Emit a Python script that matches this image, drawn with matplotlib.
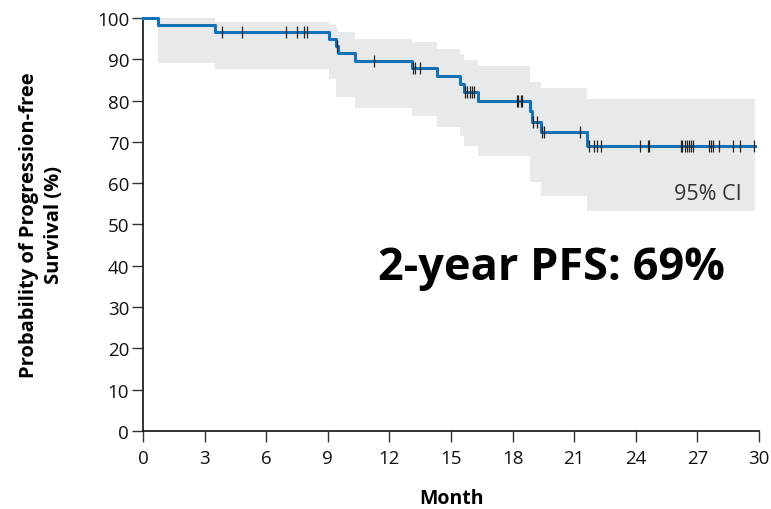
import numpy as np
import matplotlib.pyplot as plt

# Kaplan-Meier estimate: event times (months) and survival after each event (%)
event_months = [0.72, 3.5, 9.08, 9.42, 9.5, 10.33, 13.12, 14.3, 15.44, 15.64,
                16.33, 18.85, 18.95, 19.4, 21.6]
pfs = [98.3, 96.7, 95.0, 93.3, 91.6, 89.7, 87.8, 85.9, 84.0, 82.2,
       80.0, 77.4, 74.9, 72.3, 69.1]
ci_upper = [100.0, 99.0, 98.2, 97.5, 96.5, 95.0, 94.1, 92.6, 91.3, 89.8,
            88.5, 84.6, 84.6, 83.0, 80.5]
ci_lower = [89.0, 87.6, 85.2, 80.8, 80.8, 78.2, 76.3, 73.7, 71.5, 69.1,
            66.5, 60.2, 60.2, 56.8, 53.3]
last_followup = 29.8

# censored observations (months)
censored = [3.83, 4.83, 6.97, 7.49, 7.86, 7.99, 9.45, 11.27, 13.15, 13.25, 13.49,
            15.68, 15.77, 15.9, 16.0, 16.1, 18.2, 18.28, 18.4, 18.47,
            19.0, 19.17, 19.45, 19.55, 21.28,
            21.72, 21.97, 22.13, 22.3, 24.18, 24.59, 24.66,
            26.19, 26.27, 26.37, 26.48, 26.6, 26.68, 26.77,
            27.57, 27.65, 27.78, 28.07, 28.75, 29.08, 29.73]

x_ticks = list(range(0, 31, 3))
y_ticks = list(range(0, 101, 10))

BLUE = '#1672b6'
BAND = '#e8e9eb'
FONT = ['Open Sans', 'DejaVu Sans']

# step curve arrays
t = np.array([0.0] + event_months + [last_followup])
s = np.array([100.0] + pfs + [pfs[-1]])
tb = np.array(event_months + [last_followup])
up = np.array(ci_upper + [ci_upper[-1]])
lo = np.array(ci_lower + [ci_lower[-1]])

# survival value at each censor time
idx = np.searchsorted(t, censored, side='right') - 1
s_cens = s[idx]

fig = plt.figure(figsize=(7.71, 5.10), dpi=100)
ax = fig.add_axes([0.1855, 0.153, 0.799, 0.8097])

ax.fill_between(tb, lo, up, step='post', color=BAND, linewidth=0, zorder=1)
ax.step(t, s, where='post', color=BLUE, linewidth=2.2, zorder=3, clip_on=False)
ax.plot(censored, s_cens, linestyle='none', marker='|', markersize=8,
        markeredgewidth=0.9, color='#222222', zorder=4, clip_on=False)

ax.set_xlim(0, 30)
ax.set_ylim(0, 100)
ax.set_xticks(x_ticks)
ax.set_yticks(y_ticks)

tick_font = dict(family=FONT, size=13.5)
ax.set_xticklabels([str(v) for v in x_ticks], fontdict=tick_font, color='#111111')
ax.set_yticklabels([str(v) for v in y_ticks], fontdict=tick_font, color='#111111')
ax.tick_params(axis='x', direction='out', length=8, width=1, pad=5, color='#333333')
ax.tick_params(axis='y', direction='out', length=8, width=1, pad=2, color='#333333')

for side in ('top', 'right'):
    ax.spines[side].set_visible(False)
for side in ('left', 'bottom'):
    ax.spines[side].set_linewidth(1.2)
    ax.spines[side].set_color('#111111')

ax.set_xlabel('Month', family=FONT, fontsize=14, fontweight='bold', labelpad=15)
ax.set_ylabel('Probability of Progression-free\nSurvival (%)',
              family=FONT, fontsize=14.5, fontweight='bold', labelpad=24,
              linespacing=1.3)

ax.text(27.5, 56.2, '95% CI', family=FONT, fontsize=15.5,
        ha='center', va='baseline', color='#333333')
ax.text(19.9, 36.8, '2-year PFS: 69%', family=FONT,
        fontsize=32.5, fontweight='bold', ha='center', va='baseline', color='black')

fig.savefig('out.png', dpi=100)
